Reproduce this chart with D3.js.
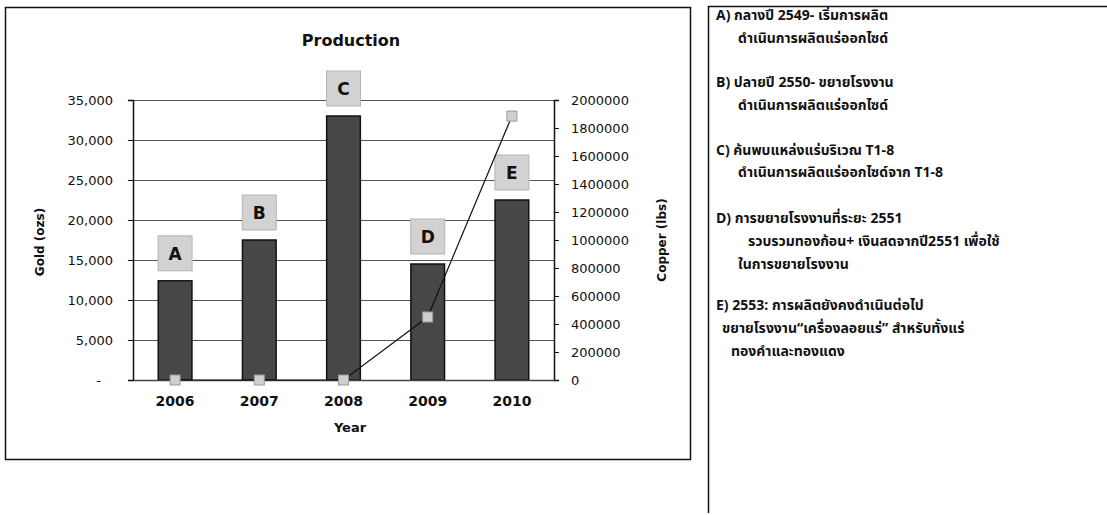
<!DOCTYPE html>
<html><head><meta charset="utf-8">
<script src="https://cdn.jsdelivr.net/npm/d3@7"></script>
<style>
html,body{margin:0;padding:0;background:#fff;}
svg{display:block;}
</style></head>
<body>
<svg id="c" width="1107" height="515"></svg>
<script>
// ---- data ----
const years = ["2006", "2007", "2008", "2009", "2010"];
const goldOz = [12400, 17500, 33000, 14500, 22500];
const copperLbs = [0, 0, 0, 450000, 1885000];
const eventLabels = ["A", "B", "C", "D", "E"];
const goldTicks = [0, 5000, 10000, 15000, 20000, 25000, 30000, 35000];
const copperTicks = [0, 200000, 400000, 600000, 800000, 1000000, 1200000, 1400000, 1600000, 1800000, 2000000];
const chartTitle = "Production";
const xTitle = "Year";
const yLeftTitle = "Gold (ozs)";
const yRightTitle = "Copper (lbs)";
const noteLines = [
  {t: "A) กลางปี 2549- เริ่มการผลิต", indent: 0},
  {t: "ดำเนินการผลิตแร่ออกไซด์", indent: 1},
  {t: "B) ปลายปี 2550- ขยายโรงงาน", indent: 0},
  {t: "ดำเนินการผลิตแร่ออกไซด์", indent: 1},
  {t: "C) ค้นพบแหล่งแร่บริเวณ T1-8", indent: 0},
  {t: "ดำเนินการผลิตแร่ออกไซด์จาก T1-8", indent: 1},
  {t: "D) การขยายโรงงานที่ระยะ 2551", indent: 0},
  {t: "รวบรวมทองก้อน+ เงินสดจากปี2551 เพื่อใช้", indent: 2},
  {t: "ในการขยายโรงงาน", indent: 1},
  {t: "E) 2553: การผลิตยังคงดำเนินต่อไป", indent: 0},
  {t: "ขยายโรงงาน\u201Cเครื่องลอยแร่\u201D สำหรับทั้งแร่", indent: 3},
  {t: "ทองคำและทองแดง", indent: 4}
];
const noteY = [15, 38, 82, 105, 150, 172, 218, 241, 264, 305, 328, 351];

// ---- layout ----
const svg = d3.select("#c");
const L = 133, R = 554, T = 100, B = 380;
const font = "'DejaVu Sans', sans-serif";

// chart frame
svg.append("rect").attr("x", 5.5).attr("y", 7.5).attr("width", 685).attr("height", 452)
  .attr("fill", "#fff").attr("stroke", "#111").attr("stroke-width", 1.5);

const x = d3.scaleBand().domain(years).range([L, R]).paddingInner(0.6).paddingOuter(0.3);
const yL = d3.scaleLinear().domain([0, 35000]).range([B, T]);
const yR = d3.scaleLinear().domain([0, 2000000]).range([B, T]);

// gridlines
svg.append("g").selectAll("line").data(goldTicks).join("line")
  .attr("x1", L).attr("x2", R)
  .attr("y1", d => Math.round(yL(d)) + 0.5).attr("y2", d => Math.round(yL(d)) + 0.5)
  .attr("stroke", "#555").attr("stroke-width", 1);

// bars
svg.append("g").selectAll("rect").data(years).join("rect")
  .attr("x", d => x(d)).attr("width", x.bandwidth())
  .attr("y", (d, i) => yL(goldOz[i])).attr("height", (d, i) => B - yL(goldOz[i]))
  .attr("fill", "#474747").attr("stroke", "#111").attr("stroke-width", 1.5);

// event label boxes
const lb = svg.append("g").selectAll("g").data(years).join("g")
  .attr("transform", (d, i) => `translate(${x(d) + x.bandwidth() / 2},${yL(goldOz[i]) - 10})`);
lb.append("rect").attr("x", -17).attr("y", -35).attr("width", 34).attr("height", 35)
  .attr("fill", "#d2d2d2").attr("stroke", "#b5b5b5").attr("stroke-width", 1);
lb.append("text").attr("y", -11).attr("text-anchor", "middle")
  .attr("font-family", font).attr("font-weight", "bold").attr("font-size", 17).attr("fill", "#111")
  .text((d, i) => eventLabels[i]);

// left axis
const axL = svg.append("g").attr("transform", `translate(${L},0)`)
  .call(d3.axisLeft(yL).tickValues(goldTicks).tickSize(5).tickPadding(15)
    .tickFormat(d => d === 0 ? "-" : d3.format(",")(d)));
axL.select(".domain").attr("stroke", "#111").attr("stroke-width", 1.5);
axL.selectAll(".tick line").attr("stroke", "#111");
axL.selectAll("text").attr("font-family", font).attr("font-size", 13).attr("fill", "#111");
axL.selectAll(".tick").filter(d => d === 0).select("text").attr("dx", -12);

// right axis
const axR = svg.append("g").attr("transform", `translate(${R},0)`)
  .call(d3.axisRight(yR).tickValues(copperTicks).tickSize(5).tickPadding(12)
    .tickFormat(d3.format("d")));
axR.select(".domain").attr("stroke", "#111").attr("stroke-width", 1.5);
axR.selectAll(".tick line").attr("stroke", "#111");
axR.selectAll("text").attr("font-family", font).attr("font-size", 13).attr("fill", "#111");

// bottom axis
const axB = svg.append("g").attr("transform", `translate(0,${B})`)
  .call(d3.axisBottom(x).tickSize(0).tickPadding(16));
axB.select(".domain").attr("stroke", "#444").attr("stroke-width", 1.5);
axB.selectAll("text").attr("font-family", font).attr("font-weight", "bold").attr("font-size", 14).attr("fill", "#111");

// copper line
const pts = years.map((d, i) => [x(d) + x.bandwidth() / 2, yR(copperLbs[i])]);
svg.append("path").attr("d", d3.line()(pts)).attr("fill", "none")
  .attr("stroke", "#111").attr("stroke-width", 1.2);
svg.append("g").selectAll("rect").data(pts).join("rect")
  .attr("x", d => d[0] - 5).attr("y", d => d[1] - 5).attr("width", 10).attr("height", 10)
  .attr("fill", "#cfcfcf").attr("stroke", "#999").attr("stroke-width", 1);

// titles
svg.append("text").attr("x", 351).attr("y", 46).attr("text-anchor", "middle")
  .attr("font-family", font).attr("font-weight", "bold").attr("font-size", 16).attr("fill", "#111")
  .text(chartTitle);
svg.append("text").attr("x", 350).attr("y", 432).attr("text-anchor", "middle")
  .attr("font-family", font).attr("font-weight", "bold").attr("font-size", 13).attr("fill", "#111")
  .text(xTitle);
svg.append("text").attr("transform", "translate(44,242) rotate(-90)").attr("text-anchor", "middle")
  .attr("font-family", font).attr("font-weight", "bold").attr("font-size", 12).attr("fill", "#111")
  .text(yLeftTitle);
svg.append("text").attr("transform", "translate(666,240) rotate(-90)").attr("text-anchor", "middle")
  .attr("font-family", font).attr("font-weight", "bold").attr("font-size", 12).attr("fill", "#111")
  .text(yRightTitle);

// notes panel
svg.append("path").attr("d", "M708.5,513 V6.5 H1107").attr("fill", "none")
  .attr("stroke", "#111").attr("stroke-width", 1.5);
const indentX = [716, 738, 748, 722, 731];
svg.append("g").selectAll("text").data(noteLines).join("text")
  .attr("x", d => indentX[d.indent]).attr("y", (d, i) => noteY[i] + 5)
  .attr("font-family", "'Noto Sans Thai','Noto Serif Thai','Tahoma','Garuda','Loma',serif")
  .attr("font-weight", "bold").attr("font-size", 14).attr("fill", "#111")
  .text(d => d.t);
</script>
</body></html>
